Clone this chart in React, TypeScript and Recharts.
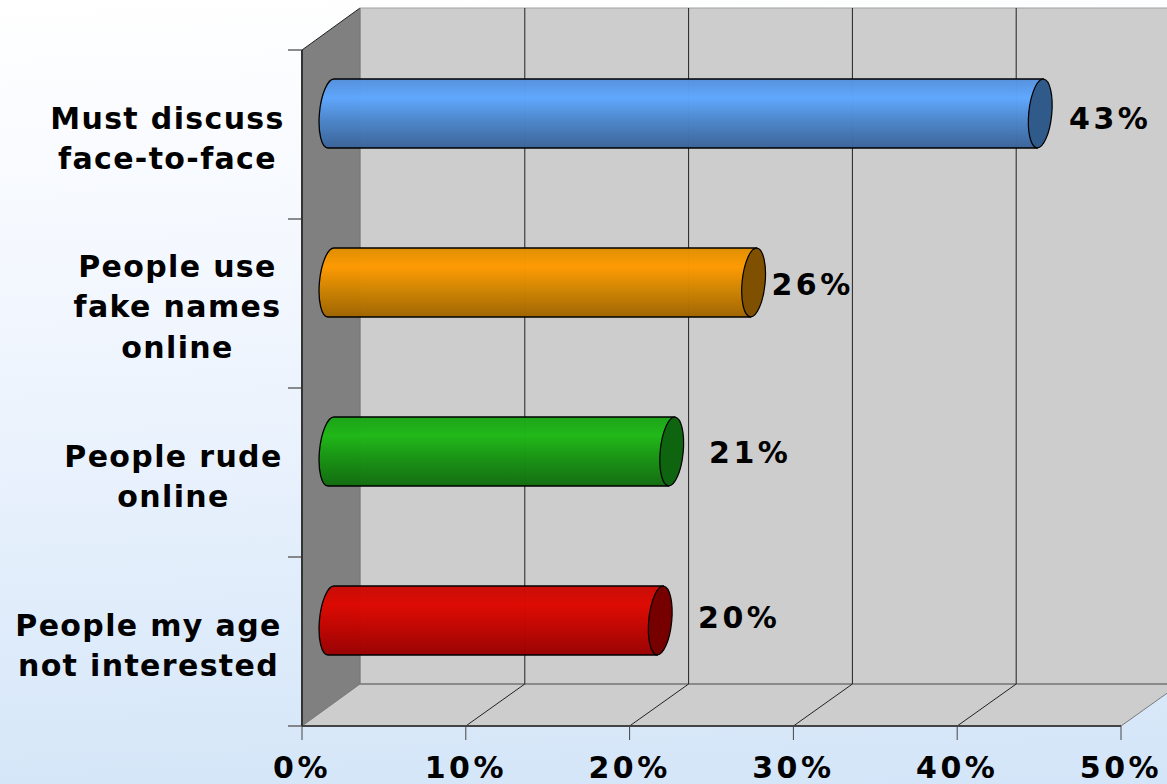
import { Bar, BarChart, CartesianGrid, LabelList, XAxis, YAxis } from "recharts";

const categories = ["Must discuss face-to-face", "People use fake names online", "People rude online", "People my age not interested"];
const categoryLines = [["Must discuss", "face-to-face"], ["People use", "fake names", "online"], ["People rude", "online"], ["People my age", "not interested"]];
const values = [43.3, 25.8, 20.8, 20.1];
const xTicks = [0, 10, 20, 30, 40, 50];

// look of each bar: top edge, highlight, lower body, bottom edge, end cap
const barColors = [
    ["#5590dc", "#5ea7ff", "#4c86cb", "#3a6399", "#305a8a"],
    ["#e08e00", "#ff9a00", "#d08400", "#a06400", "#7f5000"],
    ["#1aa416", "#1eb816", "#179212", "#116c0e", "#0f640f"],
    ["#c80a04", "#dd0800", "#c00400", "#980000", "#760000"],
];
// where the value labels sit, relative to the centre of the bar's end
const labelNudge = [[70, 5], [59, 1.5], [78.5, 0.5], [79, -3.5]];
// horizontal centre of each category label block
const categoryCentres = [167.5, 177.5, 173.5, 148.5];

const rows = categories.map((name, i) => ({ name, value: values[i] }));

const WIDTH = 1167;
const HEIGHT = 784;
const LEFT = 302;
const TOP = 50;
const RIGHT = 1121;
const BOTTOM = 726;
const DEPTH_X = 58;
const DEPTH_Y = 42;
const FONT = "'DejaVu Sans', Verdana, sans-serif";

const Walls = () => (
    <g>
        <polygon points={`${LEFT + DEPTH_X},${TOP - DEPTH_Y} ${RIGHT + DEPTH_X},${TOP - DEPTH_Y} ${RIGHT + DEPTH_X},${BOTTOM - DEPTH_Y} ${LEFT + DEPTH_X},${BOTTOM - DEPTH_Y}`} fill="#cdcdcd" stroke="#a0a0a0" />
        <polygon points={`${LEFT},${BOTTOM} ${LEFT + DEPTH_X},${BOTTOM - DEPTH_Y} ${RIGHT + DEPTH_X},${BOTTOM - DEPTH_Y} ${RIGHT},${BOTTOM}`} fill="#cdcdcd" />
        <polygon points={`${LEFT},${TOP} ${LEFT + DEPTH_X},${TOP - DEPTH_Y} ${LEFT + DEPTH_X},${BOTTOM - DEPTH_Y} ${LEFT},${BOTTOM}`} fill="#808080" />
        <line x1={LEFT} y1={TOP} x2={LEFT + DEPTH_X} y2={TOP - DEPTH_Y} stroke="#222" />
        <line x1={LEFT + DEPTH_X} y1={BOTTOM - DEPTH_Y} x2={RIGHT + DEPTH_X} y2={BOTTOM - DEPTH_Y} stroke="#8a8a8a" strokeWidth={2} />
        {categories.concat("").map((_, i) => {
            const y = TOP + (i * (BOTTOM - TOP)) / categories.length;
            return <line key={i} x1={LEFT - 14} x2={LEFT} y1={y} y2={y} stroke="#666" strokeWidth={1.5} />;
        })}
    </g>
);

// the walls go in with the first grid line so the grid stays on top of them
const GridLine = (props: any) => {
    const { x1, y1, y2, index } = props;
    const first = x1 <= LEFT + 1;
    const last = x1 >= RIGHT - 1;
    const backX = x1 + DEPTH_X + (first ? 0 : 1);
    return (
        <g key={index}>
            {index === 0 && <Walls />}
            <line x1={backX} y1={y1 - DEPTH_Y} x2={backX} y2={y2 - DEPTH_Y} stroke={first ? "#777" : "#222"} />
            <line x1={x1} y1={y2} x2={backX} y2={y2 - DEPTH_Y} stroke={first || last ? "#777" : "#222"} />
        </g>
    );
};

const Cylinder = (props: any) => {
    const { x, y, width, height, index } = props;
    const top = y - DEPTH_Y / 2;
    const cy = top + height / 2;
    const startX = x + DEPTH_X / 2;
    const endX = startX + width;
    const rx = 11.5;
    const ry = height / 2;
    const lean = 3;
    const body = `M ${startX + lean} ${top} L ${endX + lean} ${top} L ${endX - lean} ${top + height} L ${startX - lean} ${top + height} A ${rx} ${ry} 5.5 0 1 ${startX + lean} ${top} Z`;
    return (
        <g>
            <path d={body} fill={`url(#cyl${index})`} fillOpacity={0.98} stroke="#000" strokeWidth={1.3} />
            <ellipse cx={endX} cy={cy} rx={rx} ry={ry} transform={`rotate(5.5 ${endX} ${cy})`} fill={barColors[index][4]} stroke="#000" strokeWidth={1.2} />
        </g>
    );
};

const CategoryTick = (props: any) => {
    const { y, index } = props;
    const lines = categoryLines[index];
    const firstY = y + (lines.length === 3 ? 3 : 4) - ((lines.length - 1) * 40.5) / 2;
    return (
        <text textAnchor="middle" fontFamily={FONT} fontWeight="bold" fontSize={30} letterSpacing={1.35} fill="#000">
            {lines.map((line, i) => (
                <tspan key={line} x={categoryCentres[index]} y={firstY + i * 40.5} dominantBaseline="central">{line}</tspan>
            ))}
        </text>
    );
};

const ValueLabel = (props: any) => {
    const { x, y, width, height, value, index } = props;
    const [dx, dy] = labelNudge[index];
    return (
        <text
            x={x + width + DEPTH_X / 2 + dx}
            y={y + height / 2 - DEPTH_Y / 2 + dy}
            textAnchor="middle"
            dominantBaseline="central"
            fontFamily={FONT}
            fontWeight="bold"
            fontSize={30}
            letterSpacing={3.5}
            fill="#000">
            {Math.round(value)}%
        </text>
    );
};

export default function App() {
    return (
        <div style={{ position: "absolute", left: 0, top: 0, width: WIDTH, height: HEIGHT, overflow: "hidden", background: "linear-gradient(178deg, #ffffff 0%, #f1f6fe 40%, #d3e5f8 100%)" }}>
            <BarChart
                width={WIDTH}
                height={HEIGHT}
                data={rows}
                layout="vertical"
                barSize={69}
                margin={{ left: 0, top: TOP, right: WIDTH - RIGHT, bottom: 0 }}>
                <CartesianGrid horizontal={false} vertical={GridLine} />
                <XAxis
                    type="number"
                    domain={[0, 50]}
                    ticks={xTicks}
                    interval={0}
                    height={HEIGHT - BOTTOM}
                    tickFormatter={(v) => `${v}%`}
                    tick={{ fontFamily: FONT, fontWeight: "bold", fontSize: 30, fill: "#000", letterSpacing: 3.5 }}
                    tickSize={14}
                    tickMargin={17}
                    stroke="#444"
                    axisLine={{ stroke: "#444", strokeWidth: 2 }}
                />
                <YAxis
                    type="category"
                    dataKey="name"
                    width={LEFT}
                    tick={CategoryTick}
                    tickLine={false}
                    interval={0}
                    axisLine={{ stroke: "#333", strokeWidth: 2 }}
                />
                <defs>
                    {barColors.map((c, i) => (
                        <linearGradient key={i} id={`cyl${i}`} x1="0" y1="0" x2="0" y2="1">
                            <stop offset="0" stopColor={c[0]} />
                            <stop offset="0.27" stopColor={c[1]} />
                            <stop offset="0.6" stopColor={c[2]} />
                            <stop offset="1" stopColor={c[3]} />
                        </linearGradient>
                    ))}
                </defs>
                <Bar dataKey="value" shape={Cylinder} isAnimationActive={false}>
                    <LabelList dataKey="value" content={ValueLabel} />
                </Bar>
            </BarChart>
        </div>
    );
}
